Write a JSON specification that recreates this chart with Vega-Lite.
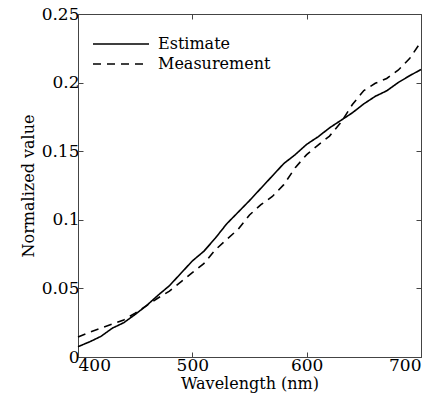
{
  "$schema": "https://vega.github.io/schema/vega-lite/v6.json",
  "width": 343,
  "height": 343,
  "autosize": {"type": "none"},
  "padding": {"left": 78, "top": 14, "right": 19, "bottom": 48},
  "background": "white",
  "config": {
    "font": "DejaVu Serif",
    "view": {"stroke": "#444", "strokeWidth": 1},
    "axis": {
      "labelFont": "DejaVu Serif",
      "titleFont": "DejaVu Serif",
      "labelFontSize": 17,
      "titleFontSize": 16,
      "titleFontWeight": "normal",
      "labelColor": "black",
      "titleColor": "black",
      "domainColor": "#444",
      "tickColor": "#444",
      "grid": false,
      "tickSize": -5
    },
    "legend": {
      "orient": "none",
      "legendX": 35,
      "legendY": 22,
      "symbolType": "M-5.6,0H5.6",
      "symbolSize": 100,
      "symbolStrokeWidth": 1.6,
      "symbolStrokeColor": "black",
      "symbolFillColor": "transparent",
      "labelFont": "DejaVu Serif",
      "labelFontSize": 16,
      "labelColor": "black",
      "labelOffset": 29,
      "padding": 0,
      "rowPadding": 4
    }
  },
  "data": {
    "values": [
      {"wl": 400, "v": 0.0075, "series": "Estimate"},
      {"wl": 410, "v": 0.011, "series": "Estimate"},
      {"wl": 420, "v": 0.015, "series": "Estimate"},
      {"wl": 430, "v": 0.021, "series": "Estimate"},
      {"wl": 440, "v": 0.025, "series": "Estimate"},
      {"wl": 450, "v": 0.031, "series": "Estimate"},
      {"wl": 460, "v": 0.0375, "series": "Estimate"},
      {"wl": 470, "v": 0.045, "series": "Estimate"},
      {"wl": 480, "v": 0.052, "series": "Estimate"},
      {"wl": 490, "v": 0.061, "series": "Estimate"},
      {"wl": 500, "v": 0.07, "series": "Estimate"},
      {"wl": 510, "v": 0.077, "series": "Estimate"},
      {"wl": 520, "v": 0.0865, "series": "Estimate"},
      {"wl": 530, "v": 0.097, "series": "Estimate"},
      {"wl": 540, "v": 0.1055, "series": "Estimate"},
      {"wl": 550, "v": 0.114, "series": "Estimate"},
      {"wl": 560, "v": 0.123, "series": "Estimate"},
      {"wl": 570, "v": 0.132, "series": "Estimate"},
      {"wl": 580, "v": 0.141, "series": "Estimate"},
      {"wl": 590, "v": 0.1475, "series": "Estimate"},
      {"wl": 600, "v": 0.155, "series": "Estimate"},
      {"wl": 610, "v": 0.1605, "series": "Estimate"},
      {"wl": 620, "v": 0.167, "series": "Estimate"},
      {"wl": 630, "v": 0.1725, "series": "Estimate"},
      {"wl": 640, "v": 0.178, "series": "Estimate"},
      {"wl": 650, "v": 0.1845, "series": "Estimate"},
      {"wl": 660, "v": 0.19, "series": "Estimate"},
      {"wl": 670, "v": 0.194, "series": "Estimate"},
      {"wl": 680, "v": 0.2, "series": "Estimate"},
      {"wl": 690, "v": 0.205, "series": "Estimate"},
      {"wl": 700, "v": 0.2095, "series": "Estimate"},
      {"wl": 400, "v": 0.0145, "series": "Measurement"},
      {"wl": 410, "v": 0.018, "series": "Measurement"},
      {"wl": 420, "v": 0.021, "series": "Measurement"},
      {"wl": 430, "v": 0.024, "series": "Measurement"},
      {"wl": 440, "v": 0.027, "series": "Measurement"},
      {"wl": 450, "v": 0.032, "series": "Measurement"},
      {"wl": 460, "v": 0.0375, "series": "Measurement"},
      {"wl": 470, "v": 0.043, "series": "Measurement"},
      {"wl": 480, "v": 0.048, "series": "Measurement"},
      {"wl": 490, "v": 0.0547, "series": "Measurement"},
      {"wl": 500, "v": 0.0615, "series": "Measurement"},
      {"wl": 510, "v": 0.068, "series": "Measurement"},
      {"wl": 520, "v": 0.078, "series": "Measurement"},
      {"wl": 530, "v": 0.0857, "series": "Measurement"},
      {"wl": 540, "v": 0.093, "series": "Measurement"},
      {"wl": 550, "v": 0.1035, "series": "Measurement"},
      {"wl": 560, "v": 0.111, "series": "Measurement"},
      {"wl": 570, "v": 0.117, "series": "Measurement"},
      {"wl": 580, "v": 0.1256, "series": "Measurement"},
      {"wl": 590, "v": 0.138, "series": "Measurement"},
      {"wl": 600, "v": 0.1475, "series": "Measurement"},
      {"wl": 610, "v": 0.1545, "series": "Measurement"},
      {"wl": 620, "v": 0.161, "series": "Measurement"},
      {"wl": 630, "v": 0.171, "series": "Measurement"},
      {"wl": 640, "v": 0.184, "series": "Measurement"},
      {"wl": 650, "v": 0.1942, "series": "Measurement"},
      {"wl": 660, "v": 0.1995, "series": "Measurement"},
      {"wl": 670, "v": 0.203, "series": "Measurement"},
      {"wl": 680, "v": 0.209, "series": "Measurement"},
      {"wl": 690, "v": 0.2175, "series": "Measurement"},
      {"wl": 700, "v": 0.2297, "series": "Measurement"}
    ]
  },
  "layer": [
    {
      "mark": {"type": "line", "color": "black", "strokeWidth": 1.6},
      "encoding": {
        "x": {
          "field": "wl",
          "type": "quantitative",
          "scale": {"domain": [400, 700], "nice": false, "zero": false},
          "axis": {"orient": "bottom", "values": [400, 500, 600, 700], "title": "Wavelength (nm)", "labelPadding": 5, "titlePadding": 2}
        },
        "y": {
          "field": "v",
          "type": "quantitative",
          "scale": {"domain": [0, 0.25], "nice": false},
          "axis": {"orient": "left", "values": [0, 0.05, 0.1, 0.15, 0.2, 0.25], "format": "~g", "title": "Normalized value", "labelPadding": 4, "titlePadding": 5}
        },
        "strokeDash": {
          "field": "series",
          "type": "nominal",
          "scale": {"domain": ["Estimate", "Measurement"], "range": [[1, 0], [8, 6]]},
          "legend": {"title": null}
        }
      }
    },
    {
      "mark": {"type": "line", "opacity": 0},
      "encoding": {
        "x": {
          "field": "wl",
          "type": "quantitative",
          "axis": {"orient": "top", "values": [500, 600], "labels": false, "title": null}
        },
        "y": {
          "field": "v",
          "type": "quantitative",
          "axis": {"orient": "right", "values": [0.05, 0.1, 0.15, 0.2], "labels": false, "title": null}
        },
        "detail": {"field": "series", "type": "nominal"}
      }
    }
  ],
  "resolve": {"axis": {"x": "independent", "y": "independent"}}
}
